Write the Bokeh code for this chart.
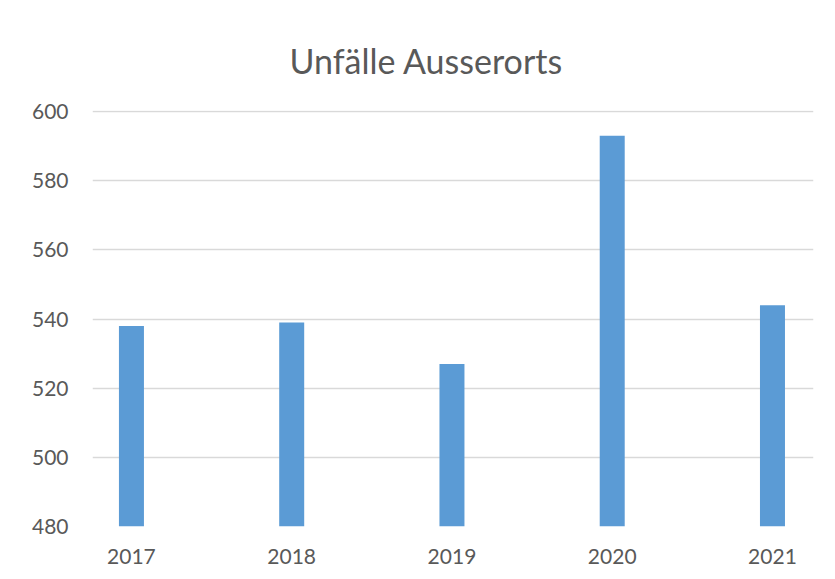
from bokeh.plotting import figure
from bokeh.models import FixedTicker, Range1d, ColumnDataSource
from bokeh.embed import file_html
from bokeh.resources import INLINE

years = [2017, 2018, 2019, 2020, 2021]
values = [538, 539, 527, 593, 544]
y_ticks = [480, 500, 520, 540, 560, 580, 600]

src = ColumnDataSource(dict(x=years, top=values))

p = figure(width=827, height=571, output_backend="svg", toolbar_location=None,
           x_range=Range1d(2016.757, 2021.256), y_range=Range1d(480, 600.3),
           min_border_left=92, min_border_right=14, min_border_top=110, min_border_bottom=45)
p.title.text = "Unfälle Ausserorts"
p.title.align = "left"
p.title.offset = 197
p.title.text_font = "Lato"
p.title.text_font_size = "34px"
p.title.text_font_style = "normal"
p.title.text_color = "#595959"
p.title.standoff = 59

p.vbar(x="x", top="top", bottom=480, width=0.156, source=src,
       fill_color="#5B9BD5", line_color=None)

p.outline_line_color = None
p.background_fill_color = "white"
p.border_fill_color = "white"

p.xgrid.grid_line_color = None
p.ygrid.grid_line_color = "#d9d9d9"
p.ygrid.grid_line_width = 1.5
p.ygrid.ticker = FixedTicker(ticks=y_ticks)

p.yaxis.ticker = FixedTicker(ticks=y_ticks)
p.xaxis.ticker = FixedTicker(ticks=years)
for ax in (p.xaxis[0], p.yaxis[0]):
    ax.axis_line_color = None
    ax.major_tick_line_color = None
    ax.minor_tick_line_color = None
    ax.major_tick_out = 0
    ax.major_tick_in = 0
    ax.major_label_text_font = "Lato"
    ax.major_label_text_font_size = "21px"
    ax.major_label_text_color = "#595959"
p.yaxis.major_label_standoff = 24
p.xaxis.major_label_standoff = 22

open("out.html", "w").write(file_html(p, INLINE))
